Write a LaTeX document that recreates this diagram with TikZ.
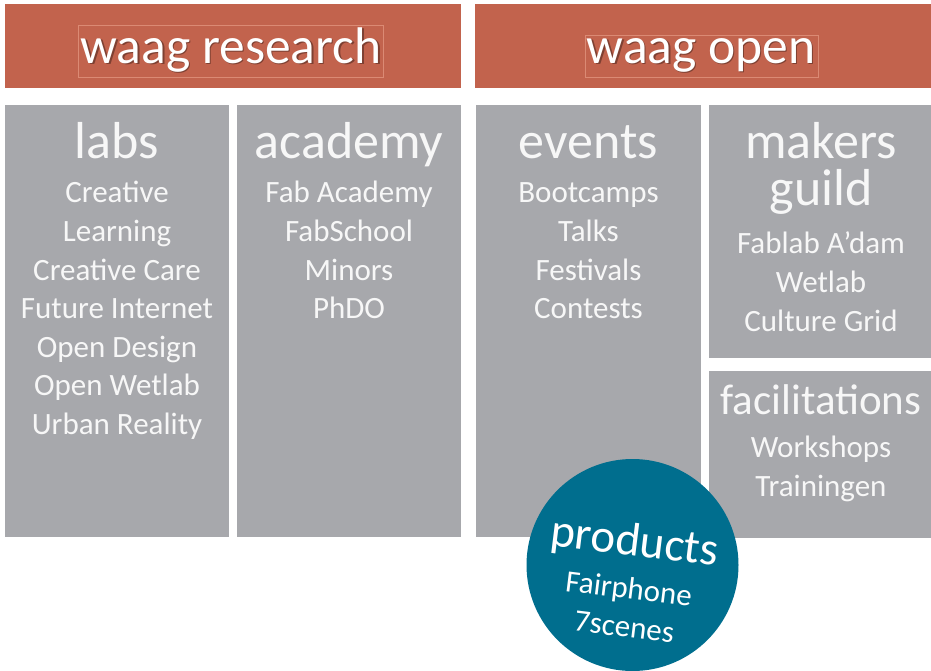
\documentclass[tikz,border=0pt]{standalone}
\usepackage{fontspec}
\setmainfont{Carlito}
\begin{document}
\begin{tikzpicture}[x=1pt,y=-1pt,
  bar/.style={fill=barred,draw=none},
  panel/.style={fill=panelgray,draw=none},
  hbox/.style={draw=boxline,line width=0.6pt},
  htext/.style={text=white,font=\fontsize{51.5}{51.5}\selectfont,anchor=base,inner sep=0pt},
  hshadow/.style={text=black,opacity=0.35,font=\fontsize{51.5}{51.5}\selectfont,anchor=base,inner sep=0pt},
  ttl/.style={text=textwhite,font=\fontsize{52}{52}\selectfont,anchor=base,inner sep=0pt},
  itm/.style={text=textwhite,font=\fontsize{31}{31}\selectfont,anchor=base,inner sep=0pt},
  ctxt/.style={text=white,font=\fontsize{31}{37}\selectfont,align=center,inner sep=0pt,rotate=-7}]
\definecolor{barred}{HTML}{C2634D}
\definecolor{boxline}{HTML}{DB8A74}
\definecolor{panelgray}{HTML}{A7A8AC}
\definecolor{teal}{HTML}{006E8E}
\definecolor{textwhite}{HTML}{F7F7F7}
\useasboundingbox (0,0) rectangle (931,670);
\fill[white] (0,0) rectangle (931,670);
% header bars
\path[bar] (5,4) rectangle (461,88);
\path[bar] (475,4) rectangle (931,88);
\draw[hbox] (78,25) rectangle (383,77);
\draw[hbox] (585,35) rectangle (818,77);
\node[hshadow] (rsh) at (232.5,64.5) {waag research};
\node[htext] (res) at (231,63) {waag research};
\node[hshadow] (osh) at (702.5,64.5) {waag open};
\node[htext] (open) at (701,63) {waag open};
% panels
\path[panel] (5,105) rectangle (229,537);
\path[panel] (237,105) rectangle (461,537);
\path[panel] (476,105) rectangle (701,537);
\path[panel] (709,105) rectangle (931,358);
\path[panel] (709,371) rectangle (931,538);
% labs
\node[ttl] (labs) at (117,158) {labs};
\node[itm] (l1) at (117,202) {Creative};
\node[itm] (l2) at (117,241) {Learning};
\node[itm] (l3) at (117,280) {Creative Care};
\node[itm] (l4) at (117,318.5) {Future Internet};
\node[itm] (l5) at (117,357) {Open Design};
\node[itm] (l6) at (117,395.5) {Open Wetlab};
\node[itm] (l7) at (117,434) {Urban Reality};
% academy
\node[ttl] (acad) at (349,158) {academy};
\node[itm] (a1) at (349,202) {Fab Academy};
\node[itm] (a2) at (349,241) {FabSchool};
\node[itm] (a3) at (349,280) {Minors};
\node[itm] (a4) at (349,318.5) {PhDO};
% events
\node[ttl] (ev) at (588.5,158) {events};
\node[itm] (e1) at (588.5,202) {Bootcamps};
\node[itm] (e2) at (588.5,241) {Talks};
\node[itm] (e3) at (588.5,280) {Festivals};
\node[itm] (e4) at (588.5,318.5) {Contests};
% makers guild
\node[ttl] (mk) at (821,158) {makers};
\node[ttl] (gd) at (821,205) {guild};
\node[itm] (m1) at (821,253) {Fablab A’dam};
\node[itm] (m2) at (821,292) {Wetlab};
\node[itm] (m3) at (821,331) {Culture Grid};
% facilitations
\node[ttl,font=\fontsize{43}{43}\selectfont] (fac) at (821,414) {facilitations};
\node[itm] (f1) at (821,457) {Workshops};
\node[itm] (f2) at (821,496) {Trainingen};
% products circle
\node[circle,fill=teal,draw=none,minimum size=212pt,inner sep=0pt] (prod) at (632.5,565) {};
\node[ctxt] (ptxt) at (630,580) {{\fontsize{47}{47}\selectfont products}\\[7pt]Fairphone\\[1pt]7scenes};
\end{tikzpicture}
\end{document}
